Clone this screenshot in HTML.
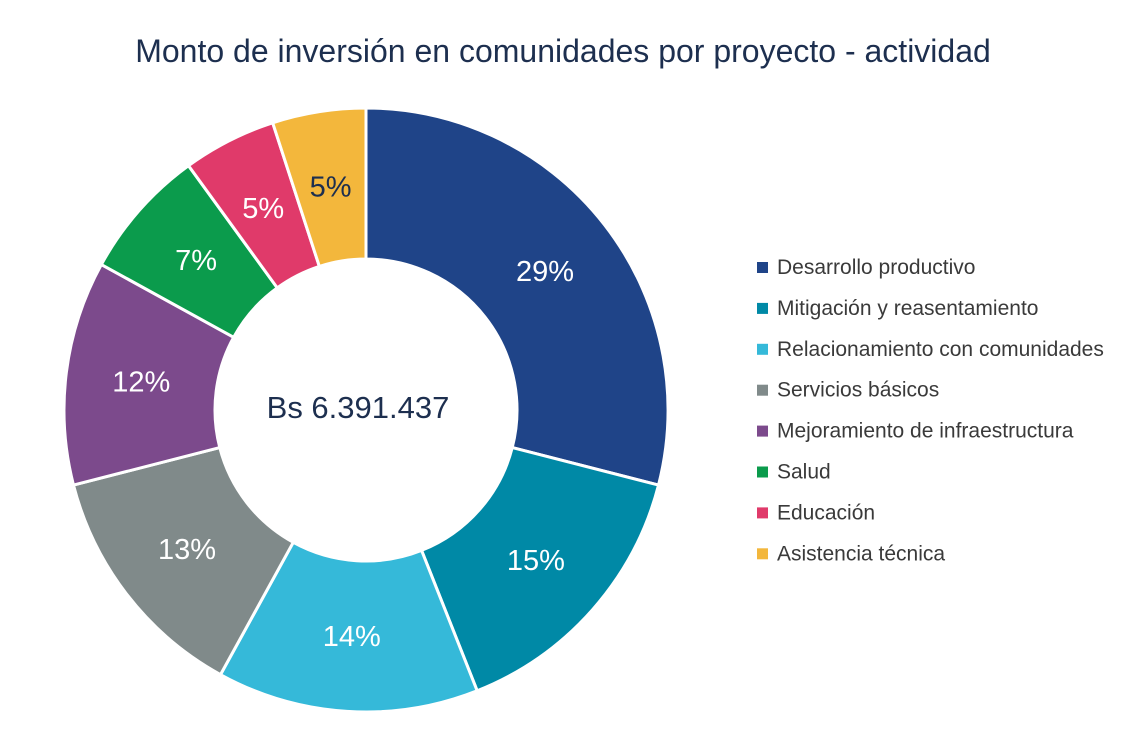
<!DOCTYPE html>
<html><head><meta charset="utf-8"><style>
body{margin:0;background:#fff;width:1143px;height:748px;overflow:hidden;font-family:"Liberation Sans",sans-serif}
</style></head><body>
<svg width="1143" height="748">
<text x="563" y="62" text-anchor="middle" font-size="32" font-weight="500" fill="#1d2f4f">Monto de inversión en comunidades por proyecto - actividad</text>
<g id="slices"></g>
<text x="358" y="418" text-anchor="middle" font-size="31" fill="#1d2f4f">Bs 6.391.437</text>
<g id="legend"></g>
</svg>
<script>
const categories=["Desarrollo productivo","Mitigación y reasentamiento","Relacionamiento con comunidades","Servicios básicos","Mejoramiento de infraestructura","Salud","Educación","Asistencia técnica"];
const values=[29,15,14,13,12,7,5,5];
const colors=["#1f4488","#0089a6","#35b9d9","#808a8a","#7c4a8c","#0b9b4c","#e03a6a","#f3b73c"];
const NS="http://www.w3.org/2000/svg";
const cx=366,cy=410,R=302,r=151;
const total=values.reduce((a,b)=>a+b,0);
const g=document.getElementById('slices');
let a0=0;
function pt(rad,a){return [cx+rad*Math.sin(a),cy-rad*Math.cos(a)];}
values.forEach((v,i)=>{
 const a1=a0+v/total*2*Math.PI;
 const [x1,y1]=pt(R,a0),[x2,y2]=pt(R,a1),[x3,y3]=pt(r,a1),[x4,y4]=pt(r,a0);
 const lg=(a1-a0)>Math.PI?1:0;
 const p=document.createElementNS(NS,'path');
 p.setAttribute('d',`M${x1},${y1}A${R},${R} 0 ${lg} 1 ${x2},${y2}L${x3},${y3}A${r},${r} 0 ${lg} 0 ${x4},${y4}Z`);
 p.setAttribute('fill',colors[i]);p.setAttribute('stroke','#fff');p.setAttribute('stroke-width','3');
 
 
 g.appendChild(p);
 const am=(a0+a1)/2;const [tx,ty]=pt((R+r)/2,am);
 const t=document.createElementNS(NS,'text');
 t.setAttribute('x',tx);t.setAttribute('y',ty+10);t.setAttribute('text-anchor','middle');
 t.setAttribute('font-size','29');t.setAttribute('fill',i===7?'#1d2f4f':'#fff');
 t.textContent=v+'%';
 
 
 g.appendChild(t);
 a0=a1;
});
const lgd=document.getElementById('legend');
categories.forEach((c,i)=>{
 const y=267+i*40.9;
 const s=document.createElementNS(NS,'rect');
 s.setAttribute('x',757);s.setAttribute('y',y-5);s.setAttribute('width',11);s.setAttribute('height',11);s.setAttribute('fill',colors[i]);
 
 
 lgd.appendChild(s);
 const t=document.createElementNS(NS,'text');
 t.setAttribute('x',777);t.setAttribute('y',y+7);t.setAttribute('font-size','21');t.setAttribute('fill','#3a3a3a');
 t.textContent=c;
 
 
 lgd.appendChild(t);
});
</script>
</body></html>
